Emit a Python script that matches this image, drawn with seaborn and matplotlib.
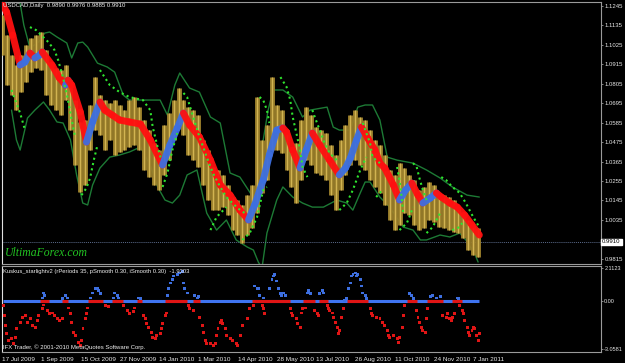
import matplotlib
matplotlib.use("Agg")
import matplotlib.pyplot as plt
import seaborn as sns
import numpy as np
import pandas as pd

# ---------------- data (trading-day index, price) ----------------
bar_step_index = list(range(0, 392, 4))
bar_high = [1.1194,1.1081,1.0968,1.0911,1.0968,1.1024,1.1064,1.1081,1.1098,1.0996,
            1.0928,1.0894,1.0883,1.0911,1.0826,1.0713,1.0589,1.0600,1.0685,1.0843,
            1.0741,1.0713,1.0696,1.0713,1.0685,1.0656,1.0713,1.0730,1.0673,1.0600,
            1.0543,1.0470,1.0430,1.0572,1.0639,1.0713,1.0781,1.0713,1.0673,1.0656,
            1.0628,1.0487,1.0430,1.0334,1.0317,1.0289,1.0232,1.0164,1.0147,1.0119,
            1.0175,1.0232,1.0730,1.0487,1.0572,1.0843,1.0685,1.0656,1.0543,1.0447,
            1.0470,1.0600,1.0673,1.0628,1.0560,1.0543,1.0526,1.0458,1.0402,1.0487,
            1.0572,1.0628,1.0656,1.0617,1.0600,1.0543,1.0487,1.0458,1.0402,1.0317,
            1.0289,1.0356,1.0328,1.0289,1.0260,1.0204,1.0221,1.0249,1.0232,1.0187,
            1.0175,1.0164,1.0147,1.0107,1.0079,1.0034,1.0006,0.9989]
bar_low = [1.0968,1.0798,1.0741,1.0656,1.0758,1.0815,1.0871,1.0894,1.0883,1.0741,
           1.0685,1.0656,1.0628,1.0713,1.0543,1.0345,1.0192,1.0232,1.0430,1.0543,
           1.0515,1.0430,1.0487,1.0402,1.0419,1.0430,1.0447,1.0458,1.0430,1.0317,
           1.0277,1.0232,1.0204,1.0289,1.0373,1.0487,1.0572,1.0515,1.0402,1.0373,
           1.0334,1.0232,1.0147,1.0090,1.0090,1.0107,1.0062,0.9977,0.9949,0.9904,
           0.9949,0.9989,1.0073,1.0187,1.0260,1.0430,1.0430,1.0413,1.0317,1.0221,
           1.0130,1.0260,1.0373,1.0345,1.0300,1.0289,1.0260,1.0175,1.0090,1.0204,
           1.0289,1.0345,1.0373,1.0345,1.0317,1.0260,1.0221,1.0187,1.0119,1.0034,
           0.9977,1.0006,1.0073,1.0062,1.0006,0.9977,0.9989,1.0034,1.0023,0.9994,
           0.9989,0.9977,0.9966,0.9960,0.9932,0.9864,0.9836,0.9824]

ma_bar = [1,4,9,15,19,23,27,31,33,41,47,52,54,57,64,69,74,80,84,90,
          96,104,113,121,131,137,143,148,153,161,170,178,186,194,201,206,213,218,224,229,
          232,237,243,248,253,259,267,275,280,284,289,293,298,304,308,312,319,324,329,334,
          339,343,349,354,358,365,371,377,383,389]
ma_val = [1.1251,1.1211,1.1081,1.0911,1.0928,1.0979,1.0951,1.0968,1.0985,1.0911,
          1.0838,1.0798,1.0826,1.0798,1.0645,1.0475,1.0589,1.0702,1.0656,1.0628,
          1.0600,1.0589,1.0577,1.0487,1.0345,1.0458,1.0555,1.0639,1.0572,1.0504,
          1.0373,1.0232,1.0175,1.0090,1.0034,1.0119,1.0260,1.0402,1.0543,1.0555,
          1.0532,1.0430,1.0328,1.0430,1.0526,1.0458,1.0373,1.0289,1.0328,1.0385,
          1.0487,1.0560,1.0498,1.0430,1.0356,1.0328,1.0232,1.0147,1.0204,1.0243,
          1.0175,1.0130,1.0158,1.0187,1.0164,1.0130,1.0107,1.0062,1.0006,0.9949]

ub_bar = [15,18,23,30,35,39,45,53,57,62,66,70,78,86,92,99,104,118,129,135,
          141,145,153,161,170,178,186,194,202,206,209,213,217,221,229,237,245,251,265,270,
          275,284,290,296,302,308,314,322,335,346,357,367,379,389]
ub_val = [1.1262,1.1138,1.1007,1.1041,1.1092,1.1098,1.1070,1.1036,1.0951,1.1036,
          1.1041,1.1013,1.0922,1.0900,1.0871,1.0741,1.0713,1.0713,1.0713,1.0628,
          1.0798,1.0866,1.0781,1.0758,1.0617,1.0583,1.0300,1.0277,1.0192,1.0147,
          1.0277,1.0487,1.0656,1.0770,1.0770,1.0730,1.0617,1.0656,1.0673,1.0560,
          1.0543,1.0543,1.0673,1.0685,1.0685,1.0600,1.0390,1.0373,1.0356,1.0317,
          1.0272,1.0221,1.0175,1.0164]

lb_bar = [8,12,15,21,27,34,39,45,50,56,61,66,70,74,80,88,96,104,113,121,
          127,133,139,145,151,159,167,175,183,191,200,205,209,212,216,224,229,237,245,253,
          262,273,281,286,292,296,300,308,316,327,335,341,346,357,365,373,378,385,388]
lb_val = [1.0656,1.0487,1.0430,1.0611,1.0656,1.0702,1.0656,1.0589,1.0583,1.0487,
          1.0289,1.0130,1.0119,1.0232,1.0328,1.0390,1.0402,1.0419,1.0447,1.0345,
          1.0221,1.0147,1.0130,1.0175,1.0289,1.0317,1.0073,0.9977,1.0034,0.9921,
          0.9881,0.9864,0.9796,0.9762,0.9960,1.0147,1.0221,1.0164,1.0130,1.0107,
          1.0107,1.0147,1.0130,1.0090,1.0187,1.0249,1.0249,1.0164,1.0107,0.9994,
          0.9977,0.9921,0.9921,0.9949,0.9938,0.9960,0.9921,0.9847,0.9796]

sar_bars = [[8,11,15,19],
            [23,28,33,38,43,46,50,54,57,60],
            [65,69,72,75,78],
            [80,88,96,104,115,121,123,127,130],
            [131,135,139,143],
            [148,151,155,160,167,172,178,183,188,192,198],
            [170,175,183],
            [196,202,208,213,216],
            [210,213,216,218],
            [227,232,235,237,240,243,245,249],
            [253,255,259,263,267,273],
            [275,281,286,292,297],
            [294,297,300,302,308],
            [305,310],
            [322,324,326,327],
            [324,330,332,335],
            [335,338,340,343,346],
            [346,351,357],
            [358,362,367,373,378,384,389],
            [367,373,375]]
sar_vals = [[1.0770,1.0713,1.0639,1.0543],
            [1.1126,1.1109,1.1075,1.1041,1.0996,1.0939,1.0838,1.0713,1.0600,1.0498],
            [1.0175,1.0215,1.0272,1.0373,1.0458],
            [1.0883,1.0798,1.0758,1.0730,1.0713,1.0656,1.0560,1.0447,1.0373],
            [1.0221,1.0300,1.0430,1.0526],
            [1.0753,1.0730,1.0639,1.0526,1.0390,1.0300,1.0221,1.0164,1.0130,1.0102,1.0073],
            [0.9977,1.0051,1.0107],
            [0.9921,0.9960,1.0051,1.0204,1.0221],
            [1.0730,1.0713,1.0656,1.0583],
            [1.0843,1.0787,1.0713,1.0617,1.0526,1.0430,1.0334,1.0277],
            [1.0656,1.0617,1.0543,1.0470,1.0413,1.0373],
            [1.0090,1.0130,1.0204,1.0317,1.0390],
            [1.0583,1.0526,1.0470,1.0390,1.0356],
            [1.0164,1.0204],
            [1.0334,1.0260,1.0147,1.0073],
            [0.9977,1.0017,1.0051,1.0107],
            [1.0356,1.0334,1.0277,1.0204,1.0147],
            [0.9960,0.9994,1.0073],
            [1.0277,1.0260,1.0221,1.0187,1.0130,1.0051,0.9994],
            [0.9977,0.9994,1.0017]]

kusk_bar = [1,2,3,4,5,8,9,11,12,15,17,19,21,23,25,27,29,30,33,34,37,39,41,43,45,47,49,
            54,56,57,58,60,62,64,65,66,68,69,70,84,87,99,102,104,107,108,115,117,118,119,
            122,123,125,126,129,130,131,133,134,152,153,156,161,163,164,166,167,170,172,174,
            175,176,178,179,180,182,183,186,188,191,192,194,196,200,202,205,212,213,214,
            235,236,237,240,241,243,244,245,247,255,257,258,265,266,267,269,270,272,273,274,
            275,277,278,300,301,302,305,308,310,312,314,315,316,319,322,323,324,326,327,328,
            338,339,340,342,343,345,346,347,359,362,363,365,366,367,369,373,375,376,377,379,
            380,381,383,384,385,387,388,389,
            33,34,35,49,52,53,72,74,76,78,79,80,91,92,94,95,111,113,135,136,137,139,140,143,
            145,147,148,149,151,157,159,160,206,208,209,210,213,218,220,221,222,224,225,227,
            228,229,231,249,250,251,259,261,262,279,281,282,284,285,286,288,289,290,292,293,
            294,296,297,332,334,335,349,351,354,357,371,372]
kusk_val = [-0.32,-0.96,-1.60,-2.11,-2.55,-2.42,-2.74,-2.36,-1.79,-1.40,-1.08,-0.96,-1.40,-1.15,
            -1.60,-1.72,-1.28,-0.96,-0.51,-0.26,-0.64,-0.83,-0.77,-0.96,-1.15,-1.28,-1.15,
            -0.45,-0.83,-1.40,-2.04,-2.23,-2.68,-2.87,-2.55,-1.79,-1.15,-0.83,-0.45,-0.32,-0.38,
            -0.32,-0.64,-0.83,-0.70,-0.45,-0.96,-1.15,-1.47,-1.72,-2.04,-2.36,-2.42,-2.23,-2.11,
            -1.79,-1.47,-0.96,-0.77,-0.32,-0.51,-0.64,-1.08,-1.60,-2.04,-2.55,-2.74,-2.74,-2.87,
            -2.74,-2.23,-1.79,-1.40,-1.28,-1.47,-1.79,-2.23,-2.42,-2.55,-2.74,-2.87,-2.23,-1.60,
            -1.15,-0.51,-0.32,-0.32,-0.51,-0.83,
            -0.51,-0.77,-0.96,-1.15,-1.47,-1.72,-0.77,-0.51,-0.45,-0.64,-0.83,-0.96,-0.32,-0.51,
            -0.64,-0.77,-1.08,-1.40,-1.72,-2.11,-1.91,-1.08,-0.51,-0.51,-0.83,-0.96,-1.08,-1.15,
            -1.40,-1.60,-1.91,-2.23,-2.36,-2.23,-2.42,-2.68,-2.36,-1.72,-0.96,-0.32,
            -0.64,-1.08,-1.40,-1.72,-1.91,-2.04,-1.15,-0.51,-0.96,-1.08,-0.83,-1.15,-1.28,-1.08,
            -0.83,-0.32,-0.64,-0.83,-1.28,-1.72,-2.04,-2.23,-1.91,-1.72,-1.79,-2.23,-2.55,-2.11,
            0.19,0.51,0.32,0.13,0.32,0.19,0.19,0.51,0.77,0.83,0.64,0.45,0.19,0.51,0.32,0.19,
            0.19,0.13,0.32,0.77,1.15,1.40,1.60,1.72,1.79,1.91,1.15,0.77,0.51,0.32,0.19,0.26,
            0.96,0.77,0.77,0.32,0.19,0.77,1.40,1.60,1.72,1.28,0.77,0.45,0.32,0.51,0.32,
            0.51,0.64,0.45,0.45,0.64,0.51,0.05,0.13,0.77,1.15,1.60,1.72,1.79,1.60,1.72,1.40,
            0.96,0.51,0.32,0.13,0.45,0.32,0.13,0.26,0.32,0.19,0.26,0.19,0.13]
zero_red_start = [31,49,70,90,110,133,156,204,245,258,281,330,346,367]
zero_red_end = [38,54,82,99,114,151,161,235,255,266,298,338,359,375]

date_tick_bar = [0,32,64,96,128,160,192,224,256,288,320,352,384]
date_tick_label = ['17 Jul 2009','1 Sep 2009','15 Oct 2009','27 Nov 2009','14 Jan 2010',
                   '1 Mar 2010','14 Apr 2010','28 May 2010','13 Jul 2010','26 Aug 2010',
                   '11 Oct 2010','24 Nov 2010','7 Jan 2011']
price_ticks = [1.1245,1.1135,1.1025,1.0915,1.0805,1.0695,1.0585,1.0475,1.0365,1.0255,
               1.0145,1.0035,0.9815]
ind_ticks = [2.1123, 0.0, -3.0581]
ind_tick_labels = ['2.1123', '0.00', '-3.0581']
last_price = 0.9910
ohlc_text = "USDCAD,Daily  0.9890 0.9976 0.9885 0.9910"
ind_text = "Kuskus_starlightv2 (rPeriods 35, pSmooth 0.30, iSmooth 0.30)  -1.9303"

# ---------------- style ----------------
sns.set_style("dark", {"axes.facecolor": "black", "figure.facecolor": "black",
                       "axes.edgecolor": "#a0a0a0"})
plt.rcParams['font.family'] = ['Liberation Sans', 'DejaVu Sans']

W, H = 625, 363
fig = plt.figure(figsize=(W/100, H/100), dpi=100)
fig.patch.set_facecolor('black')
ax = fig.add_axes([2/W, (H-264)/H, 599/W, 262/H])
ax2 = fig.add_axes([2/W, (H-352)/H, 599/W, 86/H])

for a in (ax, ax2):
    a.set_facecolor('black')
    a.set_xlim(0.24, 488.1)
    for s in a.spines.values():
        s.set_color('#9a9a9a')
        s.set_linewidth(0.8)
    a.spines['left'].set_color('#e0e0e0')
    a.grid(False)

ax.set_ylim(0.9785, 1.1268)
ax2.set_ylim(-3.27, 2.24)

# bands
band_df = pd.DataFrame({'bar': ub_bar, 'val': ub_val})
sns.lineplot(data=band_df, x='bar', y='val', ax=ax, color='#1d7a35', lw=1.0,
             estimator=None, sort=False)
band_df2 = pd.DataFrame({'bar': lb_bar, 'val': lb_val})
sns.lineplot(data=band_df2, x='bar', y='val', ax=ax, color='#1d7a35', lw=1.0,
             estimator=None, sort=False)

# price bars
ax.vlines(bar_step_index, bar_low, bar_high, color='#9c802c', lw=3.5, zorder=3)
ax.vlines(bar_step_index, bar_low, bar_high, color='#d2b452', lw=0.9, zorder=3)

# trend line (red falling / blue rising)
for i in range(len(ma_bar) - 1):
    c = '#3d6fe0' if ma_val[i+1] > ma_val[i] else '#ff1010'
    ax.plot(ma_bar[i:i+2], ma_val[i:i+2], color=c, lw=5.0,
            solid_capstyle='round', zorder=4, alpha=0.95)

# dotted trailing lines
for b, v in zip(sar_bars, sar_vals):
    ax.plot(b, v, color='#2fe52f', lw=1.5, ls=(0, (1, 1.6)), zorder=5)

# bid line
ax.axhline(last_price, color='#5a6a8a', lw=0.7, ls=(0, (1, 1)), zorder=2)

ax.set_xticks([])
ax.yaxis.tick_right()
ax.set_yticks(price_ticks)
ax.set_yticklabels([f"{t:.4f}" for t in price_ticks])
ax.tick_params(axis='y', colors='#9a9a9a', labelcolor='#e6e6e6', labelsize=4.3,
               length=1.5, width=0.6, pad=1.0, direction='out')
ax.set_xlabel('')
ax.set_ylabel('')
ax.text(1.002, last_price, f"{last_price:.4f}", transform=ax.get_yaxis_transform(),
        ha='left', va='center', fontsize=4.3, color='black',
        bbox=dict(facecolor='white', edgecolor='white', pad=0.6), zorder=10, clip_on=False)

# ---------------- lower indicator ----------------
zmax = max(kusk_bar)
ax2.plot([min(kusk_bar), zmax], [0, 0], color='#3f74f0', lw=2.2, zorder=2,
         solid_capstyle='butt')
ax2.hlines([0]*len(zero_red_start), zero_red_start, zero_red_end, color='#e01515',
           lw=2.2, zorder=3)
kdf = pd.DataFrame({'bar': kusk_bar, 'val': kusk_val})
kdf['side'] = np.where(kdf['val'] >= 0, 'up', 'down')
sns.scatterplot(data=kdf, x='bar', y='val', hue='side',
                palette={'up': '#3d6fe0', 'down': '#e01515'}, marker='s', s=4.5,
                linewidth=0, legend=False, ax=ax2, zorder=4)
ax2.set_xlabel('')
ax2.set_ylabel('')
ax2.yaxis.tick_right()
ax2.set_yticks(ind_ticks)
ax2.set_yticklabels(ind_tick_labels)
ax2.tick_params(axis='y', colors='#9a9a9a', labelcolor='#e6e6e6', labelsize=4.0,
                length=1.5, width=0.6, pad=0.8)
ax2.set_xticks(date_tick_bar)
ax2.set_xticklabels(date_tick_label, ha='left')
ax2.tick_params(axis='x', colors='#9a9a9a', labelcolor='#e6e6e6', labelsize=4.6,
                length=2.5, width=0.6, pad=1.0, direction='out')

# ---------------- texts ----------------
fig.text(3/W, 1 - 6/H, ohlc_text, color='#f0f0f0', fontsize=4.3, ha='left', va='center')
fig.text(3/W, 1 - 272/H, ind_text, color='#f0f0f0', fontsize=4.2, ha='left', va='center')
fig.text(3/W, 1 - 347/H, "IFX Trader, \u00a9 2001-2010 MetaQuotes Software Corp.",
         color='#f0f0f0', fontsize=4.3, ha='left', va='center')
fig.text(5/W, 1 - 253/H, "UltimaForex.com", color='#22c422', fontsize=8.5,
         family=['Liberation Serif', 'DejaVu Serif'], style='italic',
         ha='left', va='center')

fig.savefig('out.png', dpi=100, facecolor='black')
